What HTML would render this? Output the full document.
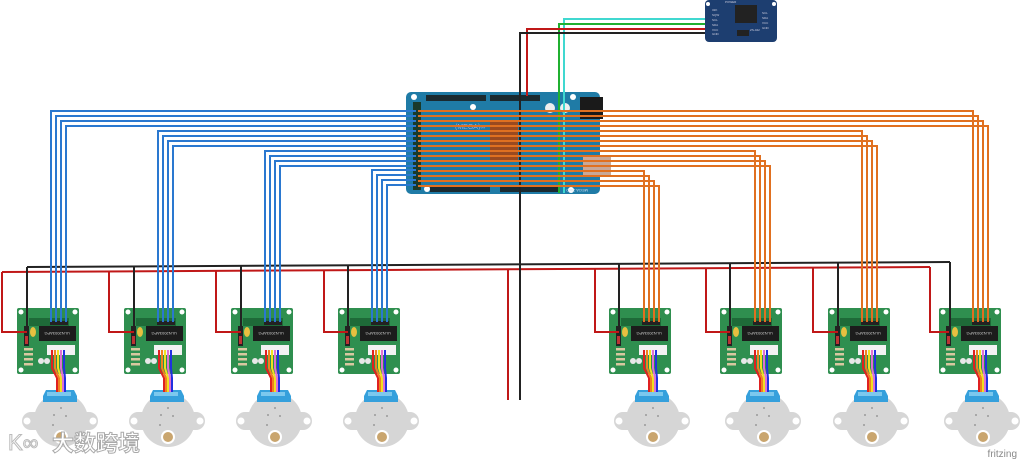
<!DOCTYPE html>
<html><head><meta charset="utf-8"><style>
html,body{margin:0;padding:0;background:#fff;}
svg{display:block;}
</style></head><body>
<svg width="1024" height="462" viewBox="0 0 1024 462" xmlns="http://www.w3.org/2000/svg" font-family="Liberation Sans, sans-serif">
<defs>
<g id="board">
  <rect x="0" y="0" width="62" height="66" rx="2" fill="#2f8f4f"/>
  <circle cx="4" cy="4" r="2.5" fill="#fff"/><circle cx="58" cy="4" r="2.5" fill="#fff"/>
  <circle cx="4" cy="62" r="2.5" fill="#fff"/><circle cx="58" cy="62" r="2.5" fill="#fff"/>
  <rect x="12" y="10" width="40" height="8" fill="#1e6a38"/>
  <rect x="33" y="13" width="18" height="4" fill="#222"/>
  <rect x="22" y="18" width="37" height="15" fill="#1c1c1c"/>
  <text x="40" y="28" font-size="4" fill="#ccc" text-anchor="middle" transform="rotate(180 40 26)">ULN2003APG</text>
  <rect x="7" y="18" width="5" height="20" fill="#222"/>
  <rect x="8" y="28" width="3" height="8" fill="#b33"/>
  <ellipse cx="16" cy="24" rx="3" ry="5" fill="#e8c040"/>
  <rect x="7" y="40" width="9" height="2.5" fill="#d8c8a0"/>
  <rect x="7" y="45" width="9" height="2.5" fill="#d8c8a0"/>
  <rect x="7" y="50" width="9" height="2.5" fill="#d8c8a0"/>
  <rect x="7" y="55" width="9" height="2.5" fill="#d8c8a0"/>
  <rect x="30" y="37" width="28" height="10" fill="#f2f2f2"/>
  <circle cx="24" cy="53" r="3" fill="#e8e8e8"/><circle cx="30" cy="53" r="3" fill="#e8e8e8"/>
  <path d="M35 42 V60 L40 70 V84" stroke="#e02020" stroke-width="2" fill="none"/>
  <path d="M38 42 V60 L42 70 V84" stroke="#f08020" stroke-width="2" fill="none"/>
  <path d="M41 42 V60 L44 70 V84" stroke="#f0e020" stroke-width="2" fill="none"/>
  <path d="M44 42 V60 L46 70 V84" stroke="#e070d0" stroke-width="2" fill="none"/>
  <path d="M47 42 V60 L48 70 V84" stroke="#2030e0" stroke-width="2" fill="none"/>
</g>
<g id="motor">
  <rect x="5" y="104" width="76" height="18" rx="9" fill="#d6d6d6"/>
  <circle cx="10" cy="113" r="3.5" fill="#fff"/><circle cx="76" cy="113" r="3.5" fill="#fff"/>
  <circle cx="44" cy="112" r="27" fill="#d6d6d6"/>
  <path d="M29 82 H57 L60 88 V94 H26 V88 Z" fill="#35a0dc"/>
  <rect x="30" y="84" width="24" height="4" fill="#7cc8ee"/>
  <circle cx="44" cy="100" r="1" fill="#999"/><circle cx="37" cy="107" r="1" fill="#999"/>
  <circle cx="49" cy="108" r="1" fill="#999"/><circle cx="36" cy="117" r="1" fill="#999"/>
  <circle cx="44" cy="129" r="7" fill="#fff"/><circle cx="44" cy="129" r="5" fill="#c9a56e"/>
</g>
</defs>

<!-- buses -->
<g fill="none" stroke-width="2">
<polyline points="2,272 930,267" stroke="#c01818"/>
<polyline points="27,267 950,262" stroke="#222"/>
</g>

<!-- red drops -->
<g fill="none" stroke="#c01818" stroke-width="2">
<polyline points="2,272 2,332 27,332"/>
<polyline points="109,272 109,332 134,332"/>
<polyline points="216,271 216,332 241,332"/>
<polyline points="324,270 324,332 348,332"/>
<polyline points="595,269 595,332 619,332"/>
<polyline points="706,268 706,332 730,332"/>
<polyline points="813,268 813,332 838,332"/>
<polyline points="930,267 930,332 949,332"/>
<polyline points="508,270 508,400"/>
</g>
<g fill="none" stroke="#222" stroke-width="2">
<polyline points="27,267 27,326"/>
<polyline points="134,266 134,326"/>
<polyline points="241,266 241,326"/>
<polyline points="348,265 348,326"/>
<polyline points="619,263 619,326"/>
<polyline points="730,263 730,326"/>
<polyline points="838,262 838,326"/>
<polyline points="950,262 950,326"/>
</g>

<!-- arduino -->
<rect x="406" y="92" width="194" height="102" rx="5" fill="#1f7ba6"/>
<rect x="413" y="102" width="8" height="88" fill="#1a3a2a"/>
<rect x="426" y="95" width="60" height="6" fill="#1a2a30"/>
<rect x="490" y="95" width="50" height="6" fill="#1a2a30"/>
<rect x="430" y="186" width="60" height="6" fill="#1a2a30"/>
<rect x="500" y="186" width="60" height="6" fill="#1a2a30"/>
<rect x="580" y="97" width="23" height="22" fill="#1a1a1a"/>
<rect x="490" y="121" width="28" height="40" fill="#9a4a20"/>
<rect x="583" y="155" width="28" height="20" fill="#c8a898"/>
<circle cx="414" cy="97" r="3" fill="#fff"/><circle cx="473" cy="107" r="3" fill="#fff"/>
<circle cx="573" cy="97" r="3" fill="#fff"/><circle cx="427" cy="189" r="3" fill="#fff"/><circle cx="571" cy="190" r="3" fill="#fff"/>
<ellipse cx="550" cy="108" rx="5" ry="5" fill="#eee"/><ellipse cx="565" cy="108" rx="5" ry="5" fill="#eee"/>
<text x="455" y="129" font-size="7" fill="#9ad">(MEGA)∞</text>
<text x="592" y="191" font-size="4" fill="#cde" transform="rotate(180 590 190)">MEGA 2560</text>

<!-- RTC -->
<rect x="705" y="0" width="72" height="42" rx="4" fill="#1d3e70"/>
<rect x="735" y="5" width="22" height="18" fill="#222"/>
<rect x="737" y="30" width="12" height="6" fill="#222"/>
<g font-size="3" fill="#ccd">
<text x="712" y="11">32K</text><text x="712" y="16">SQW</text><text x="712" y="21">SCL</text><text x="712" y="26">SDA</text><text x="712" y="31">VCC</text><text x="712" y="35">GND</text>
<text x="762" y="14">SCL</text><text x="762" y="19">SDA</text><text x="762" y="24">VCC</text><text x="762" y="29">GND</text>
<text x="750" y="31">ZS-042</text><text x="725" y="3">POWER</text>
</g>
<circle cx="708" cy="4" r="2" fill="#fff"/><circle cx="774" cy="4" r="2" fill="#fff"/>

<!-- RTC wires -->
<g fill="none" stroke-width="2">
<polyline points="705,19 564,19 564,193" stroke="#40d8d0"/>
<polyline points="705,24 559,24 559,193" stroke="#20b030"/>
<polyline points="705,29 527,29 527,96" stroke="#c01818"/>
<polyline points="705,33 520,33 520,400" stroke="#222"/>
</g>

<!-- orange wires -->
<g fill="none" stroke="#e07020" stroke-width="2">
<polyline points="418,111 973,111 973,308"/>
<polyline points="418,116 978,116 978,308"/>
<polyline points="418,121 983,121 983,308"/>
<polyline points="418,126 988,126 988,308"/>
<polyline points="418,131 862,131 862,308"/>
<polyline points="418,136 867,136 867,308"/>
<polyline points="418,141 872,141 872,308"/>
<polyline points="418,146 877,146 877,308"/>
<polyline points="418,151 755,151 755,308"/>
<polyline points="418,156 760,156 760,308"/>
<polyline points="418,161 765,161 765,308"/>
<polyline points="418,166 770,166 770,308"/>
<polyline points="418,171 644,171 644,308"/>
<polyline points="418,176 649,176 649,308"/>
<polyline points="418,181 654,181 654,308"/>
<polyline points="418,186 659,186 659,308"/>
</g>
<!-- blue wires -->
<g fill="none" stroke="#2a78d0" stroke-width="2">
<polyline points="416,111 51,111 51,322"/>
<polyline points="416,116 56,116 56,322"/>
<polyline points="416,121 61,121 61,322"/>
<polyline points="416,126 66,126 66,322"/>
<polyline points="416,131 158,131 158,322"/>
<polyline points="416,136 163,136 163,322"/>
<polyline points="416,141 168,141 168,322"/>
<polyline points="416,146 173,146 173,322"/>
<polyline points="416,151 265,151 265,322"/>
<polyline points="416,156 270,156 270,322"/>
<polyline points="416,161 275,161 275,322"/>
<polyline points="416,166 280,166 280,322"/>
<polyline points="416,170 372,170 372,322"/>
<polyline points="416,175 377,175 377,322"/>
<polyline points="416,180 382,180 382,322"/>
<polyline points="416,185 387,185 387,322"/>
</g>

<!-- boards & motors -->
<use href="#motor" x="17" y="308"/><use href="#board" x="17" y="308"/>
<use href="#motor" x="124" y="308"/><use href="#board" x="124" y="308"/>
<use href="#motor" x="231" y="308"/><use href="#board" x="231" y="308"/>
<use href="#motor" x="338" y="308"/><use href="#board" x="338" y="308"/>
<use href="#motor" x="609" y="308"/><use href="#board" x="609" y="308"/>
<use href="#motor" x="720" y="308"/><use href="#board" x="720" y="308"/>
<use href="#motor" x="828" y="308"/><use href="#board" x="828" y="308"/>
<use href="#motor" x="939" y="308"/><use href="#board" x="939" y="308"/>

<!-- re-draw wire entries over boards -->
<g fill="none" stroke="#2a78d0" stroke-width="2">
<path d="M51 308V322M56 308V322M61 308V322M66 308V322M158 308V322M163 308V322M168 308V322M173 308V322M265 308V322M270 308V322M275 308V322M280 308V322M372 308V322M377 308V322M382 308V322M387 308V322"/>
</g>
<g fill="none" stroke="#e07020" stroke-width="2">
<path d="M644 308V322M649 308V322M654 308V322M659 308V322M755 308V322M760 308V322M765 308V322M770 308V322M862 308V322M867 308V322M872 308V322M877 308V322M973 308V322M978 308V322M983 308V322M988 308V322"/>
</g>
<g fill="none" stroke-width="2">
<path d="M27 308V326M134 308V326M241 308V326M348 308V326M619 308V326M730 308V326M838 308V326M950 308V326" stroke="#222"/>
<path d="M17 332H27M124 332H134M231 332H241M338 332H348M609 332H619M720 332H730M828 332H838M939 332H949" stroke="#c01818"/>
</g>

<text x="1017" y="457" font-size="10" fill="#888" text-anchor="end">fritzing</text>
<text x="8" y="450" font-size="22" fill="#fff" stroke="#bbb" stroke-width="1">K∞</text>
<text x="52" y="451" font-family="Noto Sans CJK SC, sans-serif" font-size="22" font-weight="bold" fill="#fff" stroke="#aaa" stroke-width="1">大数跨境</text>
</svg>
</body></html>
